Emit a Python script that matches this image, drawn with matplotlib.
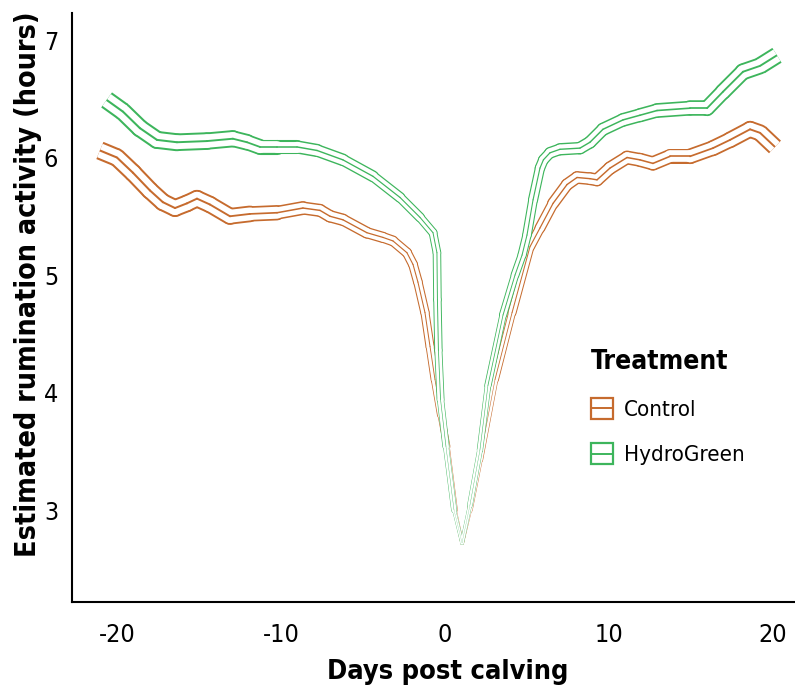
import numpy as np
import matplotlib
matplotlib.use("Agg")
import matplotlib.pyplot as plt
from matplotlib import font_manager
from matplotlib.collections import LineCollection
from matplotlib.legend_handler import HandlerBase
from matplotlib.patches import Rectangle
from matplotlib.lines import Line2D

# data (day, estimated hours)
control_day = [-21.04, -20.00, -19.02, -17.99, -17.20, -16.46, -15.73, -15.12, -14.33,
               -13.11, -11.89, -10.24, -8.66, -7.62, -7.01, -6.22, -4.76, -3.78, -3.17,
               -2.32, -1.95, -1.65, -1.22, -0.91, -0.61, -0.24, 0.12, 0.61, 1.04, 1.52,
               2.13, 3.05, 4.09, 5.18, 5.79, 6.59, 7.44, 8.05, 8.84, 9.27, 10.06, 11.10,
               11.89, 12.68, 13.72, 14.94, 16.34, 17.38, 18.60, 19.21, 20.12]
control_val = [6.06, 6.00, 5.87, 5.72, 5.62, 5.57, 5.61, 5.65, 5.60,
               5.50, 5.52, 5.53, 5.57, 5.55, 5.50, 5.47, 5.36, 5.32, 5.29,
               5.19, 5.09, 4.94, 4.68, 4.39, 4.11, 3.81, 3.54, 3.00, 2.72, 3.00,
               3.43, 4.11, 4.68, 5.24, 5.40, 5.61, 5.77, 5.83, 5.82, 5.81, 5.91, 6.00,
               5.98, 5.95, 6.01, 6.01, 6.08, 6.15, 6.24, 6.21, 6.09]

hydro_day = [-20.63, -19.63, -18.60, -17.56, -16.34, -14.51, -12.93, -12.07, -11.28,
             -10.24, -9.02, -7.80, -6.22, -4.39, -2.74, -1.52, -0.73, -0.49, -0.46,
             -0.40, -0.27, 0.06, 0.55, 1.04, 1.52, 2.13, 2.62, 3.54, 4.27, 4.70, 5.00,
             5.37, 5.79, 6.00, 6.40, 7.01, 8.23, 8.84, 9.63, 10.85, 11.89, 12.93, 14.94,
             15.98, 16.95, 18.17, 19.21, 20.24]
hydro_val = [6.49, 6.39, 6.25, 6.15, 6.13, 6.14, 6.16, 6.13, 6.09,
             6.09, 6.09, 6.06, 5.98, 5.84, 5.66, 5.49, 5.36, 5.19, 4.79,
             4.36, 3.94, 3.54, 3.00, 2.72, 3.04, 3.51, 4.06, 4.66, 5.00, 5.17, 5.34,
             5.64, 5.91, 5.98, 6.04, 6.07, 6.08, 6.13, 6.24, 6.32, 6.36, 6.40, 6.42,
             6.42, 6.56, 6.73, 6.78, 6.87]

groups = ["Control", "HydroGreen"]
colors = {"Control": "#c66b2e", "HydroGreen": "#3db55c"}

# stroke spread (px between centre and outer line) along the x axis - style only
spread_day = [-21, -18, -13, -9, -5, -2, -0.5, 0.5, 1.0, 1.5, 3, 5, 7, 10, 14, 18, 21]
spread_px = [8.3, 8.1, 7.6, 6.0, 5.2, 4.4, 3.8, 2.4, 1.2, 2.4, 3.2, 4.2, 5.4, 5.9, 6.6, 7.4, 8.0]


def pick_condensed():
    cond = [f for f in font_manager.fontManager.ttflist
            if f.stretch in ("condensed", "semi-condensed", "extra-condensed")
            or "narrow" in f.name.lower() or "condensed" in f.name.lower()]
    names = [f.name for f in cond]
    for pref in ["Liberation Sans Narrow", "DejaVu Sans Condensed", "DejaVu Sans",
                 "Noto Sans Condensed", "Noto Sans", "Roboto Condensed", "Open Sans Condensed"]:
        if pref in names:
            return pref, True
    if names:
        return names[0], True
    return "DejaVu Sans", False


family, has_cond = pick_condensed()
plt.rcParams["font.family"] = [family, "DejaVu Sans"]
plt.rcParams["font.stretch"] = "condensed"
plt.rcParams["axes.unicode_minus"] = False
shrink = 1.0 if has_cond else 0.85

DPI = 100
px2pt = 72 / DPI


def triple_line(ax, x, y, color, z):
    x = np.asarray(x)
    y = np.asarray(y)
    pts = np.column_stack([x, y])
    segs = np.stack([pts[:-1], pts[1:]], axis=1)
    xm = (x[:-1] + x[1:]) / 2
    ym = (y[:-1] + y[1:]) / 2
    s = np.interp(xm, spread_day, spread_px)
    # strokes thin out (and so pale) down in the calving dip
    t = 0.25 * s * np.interp(ym, [2.7, 3.5, 4.5], [0.4, 0.6, 1.0])
    widths = [(2 * s + t) * px2pt, (2 * s - t) * px2pt, t * px2pt]
    cols = [color, "white", color]
    for k, (w, c) in enumerate(zip(widths, cols)):
        # inner segments round-capped so the joins close, end segments cut square
        ax.add_collection(LineCollection(segs[1:-1], linewidths=w[1:-1], colors=c,
                                         capstyle="round", zorder=z + 0.1 * k))
        ax.add_collection(LineCollection(segs[[0, -1]], linewidths=w[[0, -1]], colors=c,
                                         capstyle="butt", zorder=z + 0.1 * k))


class BandHandler(HandlerBase):
    def create_artists(self, legend, orig_handle, xdescent, ydescent, width, height, fontsize, trans):
        c = orig_handle.get_color()
        r = Rectangle((-xdescent, -ydescent), width, height, fc="white", ec=c, lw=1.6, transform=trans)
        ln = Line2D([-xdescent, -xdescent + width], [-ydescent + height / 2] * 2,
                    color=c, lw=1.4, transform=trans)
        return [r, ln]


fig = plt.figure(figsize=(795 / DPI, 689 / DPI), dpi=DPI)
ax = fig.add_axes([72 / 795, 87 / 689, 723 / 795, 589 / 689])

triple_line(ax, control_day, control_val, colors["Control"], 2)
triple_line(ax, hydro_day, hydro_val, colors["HydroGreen"], 3)

ax.set_xlim(-22.74, 21.34)
ax.set_ylim(2.217, 7.23)
ax.set_xticks([-20, -10, 0, 10, 20])
ax.set_yticks([3, 4, 5, 6, 7])
ax.tick_params(length=0, labelsize=18 * shrink, colors="black")
ax.tick_params(axis="x", pad=15)
ax.tick_params(axis="y", pad=10)
for side in ["top", "right"]:
    ax.spines[side].set_visible(False)
for side in ["left", "bottom"]:
    ax.spines[side].set_linewidth(1.5)

ax.set_xlabel("Days post calving", fontsize=19.5 * shrink, fontweight="bold")
ax.set_ylabel("Estimated rumination activity (hours)", fontsize=20.5 * shrink, fontweight="bold")
ax.xaxis.set_label_coords(0.52, -0.096)
ax.yaxis.set_label_coords(-0.042, 0.54)

handles = [Line2D([], [], color=colors[g]) for g in groups]
leg = ax.legend(handles, groups, title="Treatment", loc="upper left",
                bbox_to_anchor=(0.69, 0.464), frameon=False, fontsize=16 * shrink,
                title_fontproperties={"size": 19 * shrink, "weight": "bold",
                                      "family": [family, "DejaVu Sans"], "stretch": "condensed"},
                handler_map={Line2D: BandHandler()}, handlelength=1.0, handleheight=1.05,
                handletextpad=0.5, labelspacing=1.05, alignment="left")

fig.savefig("out.png", dpi=DPI)
